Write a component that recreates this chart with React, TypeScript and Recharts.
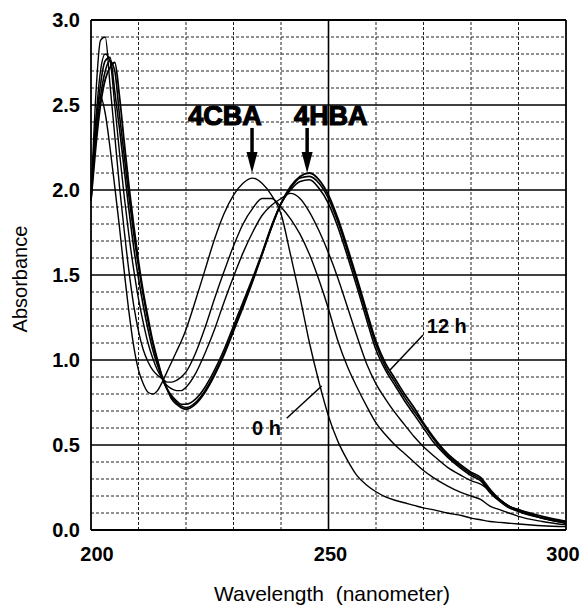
import React from 'react';
import { LineChart, Line, XAxis, YAxis, ReferenceLine, ReferenceDot } from 'recharts';

const wavelengths = [200,201,202,203,204,205,206,207,208,209,210,211,212,213,214,215,216,217,218,219,220,222,224,226,228,230,232,234,236,238,240,242,244,246,248,250,252,254,256,258,260,262,264,266,268,270,272,275,278,280,282,284,286,288,290,295,300];

const s0h = [1.94,2.40,2.55,2.45,2.25,2.02,1.78,1.52,1.28,1.08,0.94,0.86,0.81,0.80,0.82,0.87,0.93,0.99,1.05,1.11,1.18,1.35,1.53,1.71,1.86,1.97,2.04,2.07,2.04,1.97,1.86,1.62,1.37,1.10,0.87,0.67,0.52,0.41,0.32,0.265,0.225,0.195,0.175,0.16,0.145,0.13,0.12,0.10,0.085,0.07,0.06,0.05,0.045,0.04,0.035,0.025,0.02];
const sB = [1.94,2.55,2.88,2.90,2.62,2.32,2.02,1.76,1.52,1.32,1.17,1.06,0.99,0.94,0.91,0.89,0.87,0.87,0.88,0.90,0.93,1.04,1.19,1.36,1.52,1.67,1.80,1.89,1.95,1.95,1.90,1.83,1.74,1.62,1.47,1.30,1.11,0.96,0.84,0.73,0.63,0.56,0.50,0.45,0.40,0.35,0.31,0.26,0.22,0.20,0.18,0.14,0.12,0.10,0.08,0.05,0.03];
const sC = [1.94,2.40,2.70,2.80,2.76,2.50,2.22,1.96,1.73,1.53,1.36,1.22,1.10,1.01,0.94,0.89,0.85,0.83,0.82,0.82,0.84,0.92,1.04,1.18,1.34,1.49,1.63,1.75,1.85,1.91,1.95,1.98,1.95,1.87,1.76,1.63,1.48,1.31,1.14,0.98,0.86,0.77,0.69,0.62,0.55,0.49,0.44,0.37,0.32,0.29,0.27,0.23,0.18,0.14,0.12,0.07,0.04];
const sD = [1.94,2.35,2.62,2.76,2.78,2.58,2.36,2.12,1.88,1.66,1.48,1.32,1.18,1.06,0.97,0.89,0.83,0.79,0.76,0.74,0.74,0.77,0.84,0.94,1.06,1.20,1.34,1.48,1.63,1.79,1.92,2.00,2.05,2.06,2.01,1.92,1.78,1.61,1.43,1.24,1.06,0.94,0.85,0.76,0.68,0.60,0.52,0.43,0.36,0.32,0.29,0.22,0.17,0.13,0.11,0.07,0.04];
const sE = [1.94,2.30,2.55,2.70,2.76,2.70,2.44,2.20,1.96,1.74,1.55,1.38,1.23,1.10,0.99,0.90,0.83,0.78,0.75,0.73,0.72,0.75,0.82,0.92,1.04,1.18,1.32,1.47,1.62,1.78,1.92,2.01,2.07,2.08,2.04,1.95,1.81,1.64,1.46,1.27,1.09,0.96,0.87,0.78,0.70,0.62,0.54,0.44,0.37,0.33,0.30,0.23,0.18,0.14,0.11,0.07,0.05];
const s12h = [1.94,2.25,2.50,2.65,2.72,2.75,2.55,2.28,2.02,1.79,1.58,1.40,1.25,1.11,1.00,0.90,0.83,0.77,0.74,0.72,0.71,0.74,0.81,0.91,1.03,1.17,1.31,1.46,1.62,1.78,1.92,2.02,2.08,2.10,2.06,1.97,1.83,1.66,1.48,1.29,1.11,0.98,0.89,0.80,0.72,0.63,0.55,0.45,0.38,0.34,0.31,0.24,0.18,0.14,0.12,0.08,0.05];

const xTicks = [200, 250, 300];
const yTicks = [0, 0.5, 1.0, 1.5, 2.0, 2.5, 3.0];
const yMinor = [0.1,0.2,0.3,0.4,0.6,0.7,0.8,0.9,1.1,1.2,1.3,1.4,1.6,1.7,1.8,1.9,2.1,2.2,2.3,2.4,2.6,2.7,2.8,2.9];
const yMajor = [0.5, 1.0, 1.5, 2.0, 2.5];
const xMinor = [210, 220, 230, 240, 260, 270, 280, 290];
const xMajor = [250];

const seriesKeys = ['h0', 'b', 'c', 'd', 'e', 'h12'];
const seriesVals = [s0h, sB, sC, sD, sE, s12h];
const seriesWidth = [1.4, 1.4, 1.4, 1.6, 1.6, 1.8];

const data = wavelengths.map((w, i) => {
  const row: any = { w };
  seriesKeys.forEach((k, j) => { row[k] = seriesVals[j][i]; });
  return row;
});

const FONT = '"Liberation Sans", Arial, sans-serif';

const makeText = (label: string, size: number, anchor: string, heavy: boolean) => (p: any) => (
  <text x={p.cx} y={p.cy} fontFamily={FONT} fontSize={size} fontWeight={700} textAnchor={anchor}
    fill="#000" stroke={heavy ? '#000' : 'none'} strokeWidth={heavy ? 1.2 : 0}>{label}</text>
);

const arrowHead = (p: any) => (
  <polygon points={`${p.cx},${p.cy} ${p.cx - 5.5},${p.cy - 21} ${p.cx + 5.5},${p.cy - 21}`} fill="#000" />
);

const XTick = (p: any) => {
  const v = p.payload.value;
  const shift = v === 200 ? 6 : v === 300 ? -3 : 2;
  return (
    <text x={p.x + shift} y={p.y} dy="0.71em" textAnchor="middle" fontFamily={FONT} fontSize={20}
      fontWeight={700} fill="#000">{v}</text>
  );
};

export default function App() {
  return (
    <div style={{ position: 'absolute', left: 0, top: 0, width: 583, height: 606, background: '#fff' }}>
      <LineChart width={583} height={606} data={data} margin={{ top: 20, right: 17, bottom: 46, left: 31 }}>
        <XAxis dataKey="w" type="number" domain={[200, 300]} ticks={xTicks} axisLine={false} tickLine={false}
          tickSize={0} tickMargin={17} height={30} interval={0} tick={<XTick />} />
        <YAxis type="number" domain={[0, 3]} ticks={yTicks} axisLine={false} tickLine={false}
          tickSize={0} tickMargin={11} width={60} interval={0}
          tickFormatter={(v: number) => v.toFixed(1)}
          tick={{ fontFamily: FONT, fontSize: 20, fontWeight: 700, fill: '#000' }} />
        {yMinor.map((v) => (
          <ReferenceLine key={'ym' + v} y={v} stroke="#222" strokeWidth={1} strokeDasharray="3 2" />
        ))}
        {xMinor.map((v) => (
          <ReferenceLine key={'xm' + v} x={v} stroke="#222" strokeWidth={1} strokeDasharray="3 2" />
        ))}
        {yMajor.map((v) => (
          <ReferenceLine key={'yM' + v} y={v} stroke="#000" strokeWidth={1.6} />
        ))}
        {xMajor.map((v) => (
          <ReferenceLine key={'xM' + v} x={v} stroke="#000" strokeWidth={1.6} />
        ))}
        <ReferenceLine x={200} stroke="#000" strokeWidth={1.8} />
        <ReferenceLine x={300} stroke="#000" strokeWidth={1.8} />
        <ReferenceLine y={0} stroke="#000" strokeWidth={1.8} />
        <ReferenceLine y={3} stroke="#000" strokeWidth={1.8} />
        {seriesKeys.map((k, j) => (
          <Line key={k} dataKey={k} type="monotone" stroke="#000" strokeWidth={seriesWidth[j]} dot={false}
            isAnimationActive={false} />
        ))}
        <ReferenceLine segment={[{ x: 233.9, y: 2.365 }, { x: 233.9, y: 2.2 }]} stroke="#000" strokeWidth={3.5} />
        <ReferenceLine segment={[{ x: 245.5, y: 2.365 }, { x: 245.5, y: 2.2 }]} stroke="#000" strokeWidth={3.5} />
        <ReferenceDot x={233.9} y={2.1} r={0} shape={arrowHead} />
        <ReferenceDot x={245.5} y={2.1} r={0} shape={arrowHead} />
        <ReferenceDot x={228.2} y={2.38} r={0} shape={makeText('4CBA', 27, 'middle', true)} />
        <ReferenceDot x={250.5} y={2.38} r={0} shape={makeText('4HBA', 27, 'middle', true)} />
        <ReferenceLine segment={[{ x: 269.9, y: 1.147 }, { x: 262.95, y: 0.941 }]} stroke="#000" strokeWidth={1.5} />
        <ReferenceLine segment={[{ x: 241.2, y: 0.657 }, { x: 248.57, y: 0.847 }]} stroke="#000" strokeWidth={1.5} />
        <ReferenceDot x={270.7} y={1.159} r={0} shape={makeText('12 h', 20, 'start', false)} />
        <ReferenceDot x={233.9} y={0.559} r={0} shape={makeText('0 h', 20, 'start', false)} />
      </LineChart>
      <svg width={583} height={606} style={{ position: 'absolute', left: 0, top: 0, pointerEvents: 'none' }}>
        <text x={0} y={0} transform="translate(27,279) rotate(-90)" textAnchor="middle" fontFamily={FONT}
          fontSize={20} fill="#000">Absorbance</text>
        <text x={332} y={601} textAnchor="middle" fontFamily={FONT} fontSize={21} fill="#000"
          style={{ whiteSpace: 'pre' }}>{'Wavelength  (nanometer)'}</text>
      </svg>
    </div>
  );
}
